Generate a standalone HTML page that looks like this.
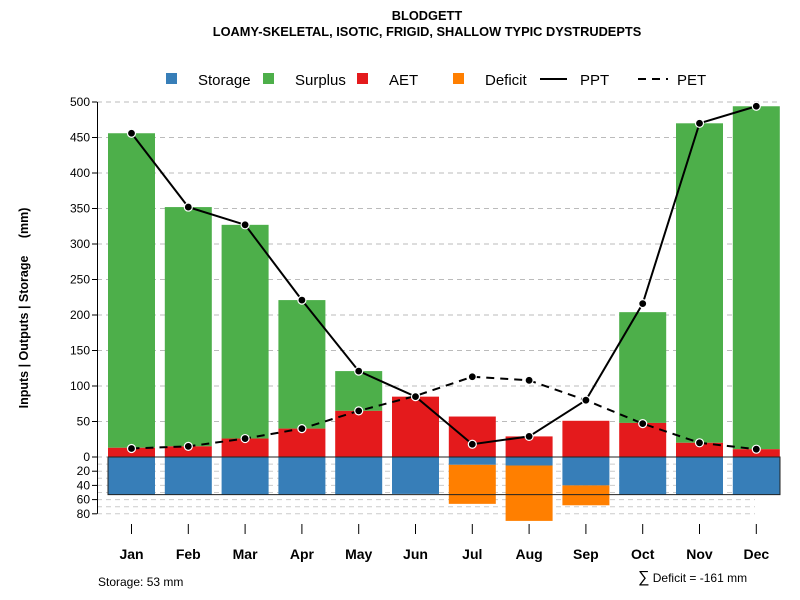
<!DOCTYPE html>
<html><head><meta charset="utf-8"><style>body{margin:0;background:#fff}svg{display:block;font-family:"Liberation Sans",Arial,sans-serif}</style></head>
<body>
<svg id="chart" width="800" height="600">
<text x="427" y="20" text-anchor="middle" font-size="12.8" font-weight="bold">BLODGETT</text>
<text x="427" y="36" text-anchor="middle" font-size="12.8" font-weight="bold">LOAMY-SKELETAL, ISOTIC, FRIGID, SHALLOW TYPIC DYSTRUDEPTS</text>
<g id="legend"></g>
<g id="grid"></g><g id="bars"></g><g id="lines"></g><g id="axes"></g>
<text transform="translate(28,308) rotate(-90)" text-anchor="middle" font-size="12.5" font-weight="bold" xml:space="preserve">Inputs | Outputs | Storage     (mm)</text>
<text x="98" y="586" font-size="12">Storage: 53 mm</text>
<text x="638" y="582" font-size="12"><tspan font-size="16">∑</tspan> Deficit = -161 mm</text>
</svg>
<script>
const months=["Jan","Feb","Mar","Apr","May","Jun","Jul","Aug","Sep","Oct","Nov","Dec"];
const ppt=[456,352,327,221,121,85,18,29,80,216,470,494];
const pet=[12,15,26,40,65,86,113,108,80,47,20,11];
const aet=[13,15,26,40,65,85,57,29,51,48,20,11];
const surplusTop=[456,352,327,221,121,85,57,29,51,204,470,494];
const storage=[53,53,53,53,53,52,11,12,40,53,53,53];
const deficit=[0,0,0,0,0,0,55,78,28,0,0,0];
const yTicks=[0,50,100,150,200,250,300,350,400,450,500];
const yTicksLow=[20,40,60,80];
const NS="http://www.w3.org/2000/svg";
function y(v){return 457-v*0.71;}
function yl(v){return 457+v*0.71;}
function x(i){return 131.5+i*56.8;}
const BW=47;
function mk(tag,attrs,parent,txt){const e=document.createElementNS(NS,tag);for(const k in attrs)e.setAttribute(k,attrs[k]);if(txt!==undefined)e.textContent=txt;document.getElementById(parent).appendChild(e);return e;}
for(const t of yTicks){const g=mk('line',{x1:97,x2:780,y1:y(t),y2:y(t),stroke:'#bbb','stroke-dasharray':'5,4'},'grid');}
for(let v=10;v<=80;v+=10){const g=mk('line',{x1:97,x2:755,y1:yl(v),y2:yl(v),stroke:'#ccc','stroke-dasharray':'5,4'},'grid');}
months.forEach((m,i)=>{const l=x(i)-BW/2;
 let r=mk('rect',{x:l,y:y(surplusTop[i]),width:BW,height:Math.max(0,(surplusTop[i]-aet[i])*0.71),fill:'#4daf4a'},'bars');
 
 r=mk('rect',{x:l,y:y(aet[i]),width:BW,height:aet[i]*0.71,fill:'#e41a1c'},'bars');
 
 r=mk('rect',{x:l,y:457,width:BW,height:storage[i]*0.71,fill:'#377eb8'},'bars');
 
 r=mk('rect',{x:l,y:yl(storage[i]),width:BW,height:deficit[i]*0.71,fill:'#ff7f00'},'bars');
 
});
let box=mk('rect',{x:108,y:457,width:672,height:53*0.71,fill:'none',stroke:'#222','stroke-width':1},'bars');

function line(arr,dash,name){const p=mk('polyline',{points:arr.map((v,i)=>x(i)+','+y(v)).join(' '),fill:'none',stroke:'#000','stroke-width':2,'stroke-dasharray':dash},'lines');
 
 arr.forEach((v,i)=>{const c=mk('circle',{cx:x(i),cy:y(v),r:4,fill:'#000',stroke:'#fff','stroke-width':1.2},'lines');});}
line(pet,'8,6','pet');line(ppt,'none','ppt');
let a=mk('line',{x1:97.5,x2:97.5,y1:y(500),y2:457,stroke:'#000'},'axes');
a=mk('line',{x1:97.5,x2:97.5,y1:457,y2:yl(80),stroke:'#000'},'axes');
for(const t of yTicks){mk('line',{x1:92,x2:97,y1:y(t),y2:y(t),stroke:'#000'},'axes');const tx=mk('text',{x:90,y:y(t)+4,'text-anchor':'end','font-size':12},'axes',t);}
for(const t of yTicksLow){mk('line',{x1:92,x2:97,y1:yl(t),y2:yl(t),stroke:'#000'},'axes');const tx=mk('text',{x:90,y:yl(t)+4,'text-anchor':'end','font-size':12},'axes',t);}
months.forEach((m,i)=>{mk('line',{x1:x(i),x2:x(i),y1:524,y2:534,stroke:'#000'},'axes');const tx=mk('text',{x:x(i),y:559,'text-anchor':'middle','font-size':14,'font-weight':'bold'},'axes',m);});
const legNames=["Storage","Surplus","AET","Deficit"];const legCols=["#377eb8","#4daf4a","#e41a1c","#ff7f00"];const legX=[166,263,357,453];
legNames.forEach((n,i)=>{const r=mk('rect',{x:legX[i],y:73,width:11,height:11,fill:legCols[i]},'legend');
 const t=mk('text',{x:legX[i]+32,y:85,'font-size':15},'legend',n);});
let l=mk('line',{x1:540,x2:567,y1:79,y2:79,stroke:'#000','stroke-width':2},'legend');
let t=mk('text',{x:580,y:85,'font-size':15},'legend','PPT');
l=mk('line',{x1:638,x2:668,y1:79,y2:79,stroke:'#000','stroke-width':2,'stroke-dasharray':'8,6'},'legend');
t=mk('text',{x:677,y:85,'font-size':15},'legend','PET');
</script>
</body></html>
